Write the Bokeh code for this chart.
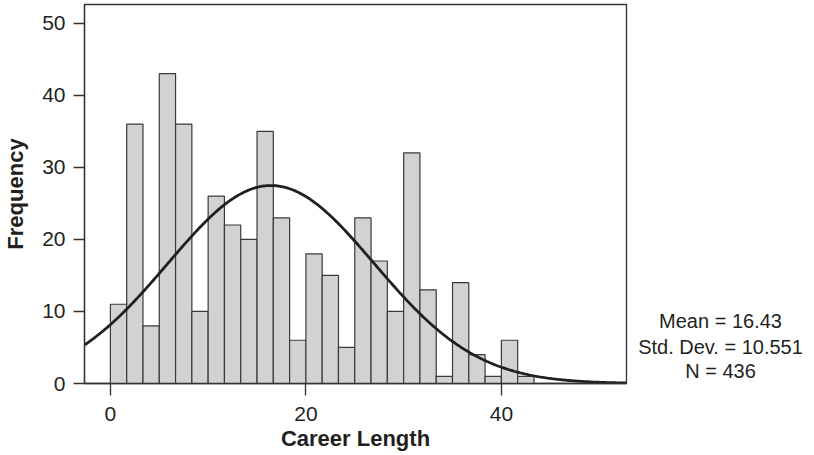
import numpy as np
from bokeh.plotting import figure
from bokeh.models import Label, Range1d, FixedTicker
from bokeh.layouts import row
from bokeh.embed import file_html
from bokeh.resources import INLINE

# ---- data ----
COUNTS = [11, 36, 8, 43, 36, 10, 26, 22, 20, 35, 23, 6, 18, 15, 5, 23, 17, 10, 32, 13, 1, 14, 4, 1, 6, 1]
BIN_START = 0.0
BIN_WIDTH = 5.0 / 3.0
MEAN = 16.43
STD = 10.551
N = 436
X_TICKS = [0, 20, 40]
Y_TICKS = [0, 10, 20, 30, 40, 50]
STATS_LINES = ["Mean = 16.43", "Std. Dev. = 10.551", "N = 436"]
X_LABEL = "Career Length"
Y_LABEL = "Frequency"

FONT = "Liberation Sans"
TXT = "#231f20"
X0, X1 = -2.65, 52.8
Y0, Y1 = 0, 52.6

p = figure(width=630, height=455, output_backend="svg", toolbar_location=None,
           x_range=Range1d(X0, X1), y_range=Range1d(Y0, Y1),
           min_border_left=83, min_border_right=4, min_border_top=4, min_border_bottom=72)

left = [BIN_START + i * BIN_WIDTH for i in range(len(COUNTS))]
right = [l + BIN_WIDTH for l in left]
p.quad(left=left, right=right, bottom=0, top=COUNTS,
       fill_color="#d1d2d4", line_color="#3a3a3a", line_width=1.2)

# fitted normal curve from the stated mean / sd / N
xs = np.linspace(X0, X1, 400)
ys = N * BIN_WIDTH / (STD * np.sqrt(2 * np.pi)) * np.exp(-0.5 * ((xs - MEAN) / STD) ** 2)
p.line(xs, ys, line_color="#231f20", line_width=2.8)

p.xgrid.visible = False
p.ygrid.visible = False
p.outline_line_color = "#333333"
p.outline_line_width = 1.3
p.background_fill_color = "white"
p.border_fill_color = "white"

for ax in (p.xaxis[0], p.yaxis[0]):
    ax.axis_line_color = "#333333"
    ax.axis_line_width = 1.3
    ax.major_tick_line_color = "#333333"
    ax.major_tick_line_width = 1.3
    ax.major_tick_in = 0
    ax.minor_tick_line_color = None
    ax.major_label_text_font = FONT
    ax.major_label_text_font_size = "21px"
    ax.major_label_text_color = TXT
    ax.axis_label_text_font = FONT
    ax.axis_label_text_font_size = "22px"
    ax.axis_label_text_font_style = "bold"
    ax.axis_label_text_color = TXT

p.xaxis.ticker = FixedTicker(ticks=X_TICKS)
p.yaxis.ticker = FixedTicker(ticks=Y_TICKS)
p.xaxis.major_tick_out = 12
p.yaxis.major_tick_out = 11
p.xaxis.major_label_standoff = 11
p.yaxis.major_label_standoff = 8
p.xaxis.axis_label = X_LABEL
p.yaxis.axis_label = Y_LABEL
p.xaxis.axis_label_standoff = 2
p.yaxis.axis_label_standoff = 11

# side panel with the summary statistics, frame aligned with the main plot
s = figure(width=184, height=455, output_backend="svg", toolbar_location=None,
           x_range=Range1d(0, 184), y_range=Range1d(Y0, Y1),
           min_border_left=0, min_border_right=0, min_border_top=4, min_border_bottom=72)
s.axis.visible = False
s.grid.visible = False
s.outline_line_color = None
s.border_fill_color = "white"
stat_y = [8.65, 5.05, 1.7]
for t, yy in zip(STATS_LINES, stat_y):
    s.add_layout(Label(x=90, y=yy, text=t, text_align="center", text_baseline="middle",
                       text_font=FONT, text_font_size="20px", text_color=TXT))

open("out.html", "w").write(file_html(row(p, s, spacing=0), INLINE))
